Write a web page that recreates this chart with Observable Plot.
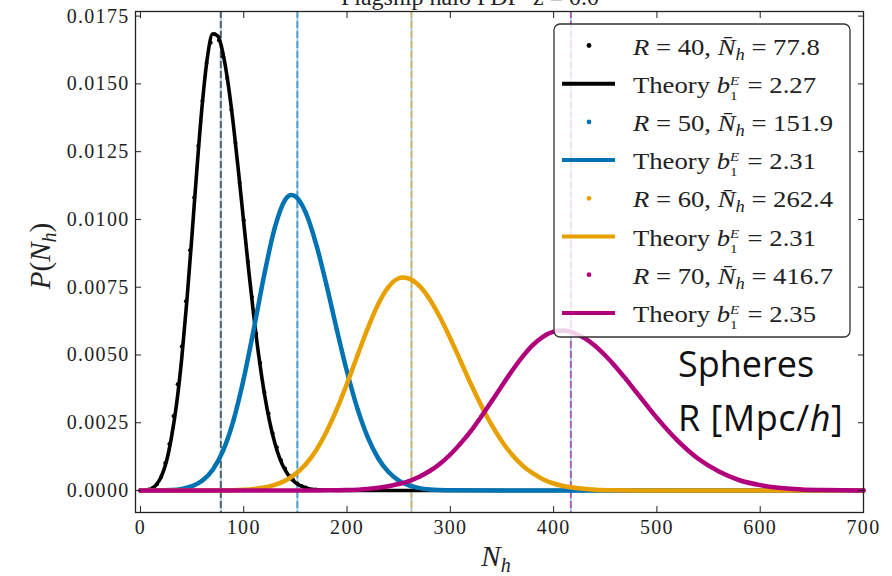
<!DOCTYPE html>
<html>
<head>
<meta charset="utf-8">
<script src="https://cdn.jsdelivr.net/npm/d3@7"></script>
<script src="https://cdn.jsdelivr.net/npm/@observablehq/plot@0.6"></script>
<style>
  body { margin: 0; background: #fff; }
  #chart svg { display: block; }
</style>
</head>
<body>
<div id="chart"></div>
<script>
// ---------------- data ----------------
const radii = [40, 50, 60, 70];
const meanCounts = [77.8, 151.9, 262.4, 416.7];
const biasLabels = ["2.27", "2.31", "2.31", "2.35"];
const colors = ["#000000", "#0173b2", "#e8a000", "#b0007c"];
const xTicks = [0, 100, 200, 300, 400, 500, 600, 700];
const yTicks = [0, 0.0025, 0.005, 0.0075, 0.01, 0.0125, 0.015, 0.0175];

// Theory curves
const theoryN40 = [0,5,10,15,20,25,30,35,40,45,50,55,60,65,70,75,80,85,90,95,100,105,110,115,120,125,130,135,140,145,150,160,170,180,200,250,300,400,500,600,700];
const theoryP40 = [0,0.00001,0.00005,0.0002,0.0005,0.00105,0.00196,0.0032,0.00489,0.00703,0.00948,0.01203,0.01432,0.01603,0.01685,0.01676,0.01611,0.01498,0.01348,0.01173,0.00988,0.00805,0.00634,0.00484,0.00357,0.00255,0.00176,0.00117,0.00076,0.00048,0.00029,0.0001,0.00003,0.00001,0,0,0,0,0,0,0];

const theoryN50 = [0,10,20,30,40,50,60,70,80,90,100,110,120,130,140,146,150,160,170,180,190,200,210,220,230,240,250,260,270,280,290,300,350,400,500,600,700];
const theoryP50 = [0,0,0.00001,0.00002,0.00006,0.00016,0.00037,0.00077,0.00147,0.00258,0.00413,0.00601,0.00799,0.00969,0.01072,0.0109,0.01085,0.01025,0.0091,0.0076,0.00595,0.00438,0.00303,0.00197,0.0012,0.00069,0.00037,0.00019,0.00009,0.00004,0.00002,0.00001,0,0,0,0,0];

const theoryN60 = [0,50,80,90,100,110,120,130,140,150,160,170,180,190,200,210,220,230,240,250,254,260,270,280,290,300,310,320,330,340,350,360,370,380,390,400,420,440,460,500,600,700];
const theoryP60 = [0,0,0,0.00001,0.00003,0.00006,0.00011,0.00021,0.00036,0.00061,0.00097,0.00148,0.00216,0.00299,0.00395,0.00497,0.00598,0.00686,0.0075,0.00783,0.00786,0.00782,0.00755,0.00706,0.00639,0.00561,0.00477,0.00392,0.00313,0.00242,0.00181,0.00131,0.00092,0.00063,0.00041,0.00026,0.0001,0.00003,0.00001,0,0,0];

const theoryN70 = [0,100,160,180,200,220,240,250,260,270,280,290,300,310,320,330,340,350,360,370,380,390,400,407,410,420,430,440,450,460,470,480,490,500,520,540,560,580,600,620,640,660,680,700];
const theoryP70 = [0,0,0,0.00001,0.00002,0.00006,0.00016,0.00024,0.00035,0.00051,0.00072,0.00099,0.00133,0.00174,0.0022,0.00273,0.00329,0.00387,0.00443,0.00494,0.00537,0.00568,0.00586,0.0059,0.0059,0.00581,0.00562,0.00534,0.00498,0.00457,0.00411,0.00363,0.00315,0.00268,0.00184,0.00117,0.0007,0.00038,0.0002,0.00009,0.00004,0.00002,0.00001,0];

// Measured points (R = 40 visible beside its theory line)
const dataN40 = [0,4,8,12,16,20,24,28,32,36,40,44,48,52,56,60,64,68,72,76,80,84,88,92,96,100,104,108,112,116,120,124,128,132,136,140,144,148,152,156,160,170,180];
const dataP40 = [0,0.00001,0.00004,0.0001,0.00023,0.0005,0.00102,0.00172,0.00275,0.00392,0.00531,0.00698,0.00886,0.01081,0.01272,0.01438,0.01577,0.01652,0.01683,0.01661,0.016,0.01522,0.01405,0.01283,0.01135,0.00997,0.00845,0.00714,0.00579,0.0047,0.00363,0.00284,0.00211,0.0016,0.00113,0.00081,0.00055,0.00039,0.00025,0.00017,0.00011,0.00004,0.00001];

// ---------------- build tables ----------------
const pairs = (N, P) => N.map((n, i) => ({N: n, P: P[i]}));
const theorySets = [pairs(theoryN40, theoryP40), pairs(theoryN50, theoryP50), pairs(theoryN60, theoryP60), pairs(theoryN70, theoryP70)];
const dataSets = [pairs(dataN40, dataP40), pairs(theoryN50, theoryP50), pairs(theoryN60, theoryP60), pairs(theoryN70, theoryP70)];
const meanRows = meanCounts.map((m, i) => ({N: m, color: colors[i]}));

const seriesMarks = [];
radii.forEach((r, i) => {
  seriesMarks.push(Plot.dot(dataSets[i], {x: "N", y: "P", r: 2, fill: colors[i], stroke: "none"}));
  seriesMarks.push(Plot.line(theorySets[i], {x: "N", y: "P", stroke: colors[i], strokeWidth: i === 0 ? 3.6 : 4.5, curve: "monotone-x"}));
});

const chart = Plot.plot({
  width: 892,
  height: 576,
  marginLeft: 135,
  marginRight: 29,
  marginTop: 11,
  marginBottom: 64,
  x: {domain: [-4.8, 700]},
  y: {domain: [-0.00081, 0.01767]},
  style: {fontFamily: "'Liberation Serif', 'Times New Roman', serif", fontSize: "20px", color: "#222", background: "#fff"},
  marks: [
    Plot.ruleX(meanRows, {x: "N", stroke: "#a8d2f0", strokeWidth: 2}),
    Plot.ruleX(meanRows, {x: "N", stroke: "color", strokeWidth: 2, strokeOpacity: 0.55, strokeDasharray: "7,3"}),
    ...seriesMarks,
    Plot.axisX({ticks: xTicks, tickSize: -6, tickPadding: 13, tickFormat: d => String(d), label: null}),
    Plot.axisX({anchor: "top", ticks: xTicks, tickSize: -6, tickFormat: () => "", label: null}),
    Plot.axisY({ticks: yTicks, tickSize: -6, tickPadding: 12, tickFormat: d => d.toFixed(4), label: null}),
    Plot.axisY({anchor: "right", ticks: yTicks, tickSize: -6, tickFormat: () => "", label: null}),
    Plot.frame({stroke: "#222", strokeWidth: 1.3})
  ]
});
document.getElementById("chart").appendChild(chart);

// ---------------- annotations ----------------
const svg = d3.select(chart);
svg.selectAll('g[aria-label="x-axis tick label"] text, g[aria-label="y-axis tick label"] text')
  .attr("letter-spacing", "1.3px").attr("fill", "#222");

const serif = "'Liberation Serif', 'Times New Roman', serif";

// clipped title (only its lower edge is visible, as in the original)
svg.append("text").attr("x", 470).attr("y", 5).attr("text-anchor", "middle")
  .attr("font-family", serif).attr("font-size", 24).attr("fill", "#222")
  .text("Flagship halo PDF  z = 0.0");

// y label P(N_h)
const yl = svg.append("text").attr("transform", "translate(50,256) rotate(-90)")
  .attr("text-anchor", "middle").attr("font-family", serif).attr("font-size", 29).attr("fill", "#222");
yl.append("tspan").attr("font-style", "italic").text("P");
yl.append("tspan").text("(");
yl.append("tspan").attr("font-style", "italic").text("N");
yl.append("tspan").attr("font-style", "italic").attr("font-size", 20).attr("dy", 6).text("h");
yl.append("tspan").attr("dy", -6).text(")");

// x label N_h
const xl = svg.append("text").attr("x", 496).attr("y", 566).attr("text-anchor", "middle")
  .attr("font-family", serif).attr("font-size", 29).attr("fill", "#222");
xl.append("tspan").attr("font-style", "italic").text("N");
xl.append("tspan").attr("font-style", "italic").attr("font-size", 20).attr("dy", 6).text("h");

// legend
const lg = svg.append("g");
lg.append("rect").attr("x", 554).attr("y", 24).attr("width", 296).attr("height", 313).attr("rx", 6)
  .attr("fill", "#fff").attr("fill-opacity", 0.82).attr("stroke", "#333").attr("stroke-width", 1.3);
radii.forEach((r, i) => {
  const yd = 45.5 + i * 76.4;
  const yt = yd + 38.2;
  lg.append("circle").attr("cx", 589).attr("cy", yd).attr("r", 2.4).attr("fill", colors[i]);
  lg.append("line").attr("x1", 562).attr("x2", 615).attr("y1", yt).attr("y2", yt)
    .attr("stroke", colors[i]).attr("stroke-width", 4);
  const t1 = lg.append("text").attr("transform", `translate(633,${yd + 9}) scale(1.16,1)`)
    .attr("text-anchor", "start")
    .attr("font-family", serif).attr("font-size", 23).attr("fill", "#222");
  t1.append("tspan").attr("font-style", "italic").text("R");
  t1.append("tspan").text(` = ${r}, `);
  t1.append("tspan").attr("font-style", "italic").text("N\u0304");
  t1.append("tspan").attr("font-style", "italic").attr("font-size", 16).attr("dy", 5).text("h");
  t1.append("tspan").attr("dy", -5).text(` = ${meanCounts[i]}`);
  const t2 = lg.append("text").attr("transform", `translate(633,${yt + 9}) scale(1.16,1)`)
    .attr("text-anchor", "start")
    .attr("font-family", serif).attr("font-size", 23).attr("fill", "#222");
  t2.append("tspan").text("Theory ");
  t2.append("tspan").attr("font-style", "italic").text("b");
  t2.append("tspan").attr("font-style", "italic").attr("font-size", 13).attr("dy", -8).text("E");
  t2.append("tspan").attr("font-size", 13).attr("dx", -8).attr("dy", 15).text("1");
  t2.append("tspan").attr("dy", -7).attr("dx", 3).text(` = ${biasLabels[i]}`);
});

// "Spheres R [Mpc/h]"
const sans = "'Open Sans', 'Noto Sans', sans-serif";
svg.append("text").attr("x", 678).attr("y", 377).attr("text-anchor", "start")
  .attr("font-family", sans).attr("font-size", 36).attr("fill", "#111").text("Spheres");
const s2 = svg.append("text").attr("x", 678).attr("y", 431).attr("text-anchor", "start")
  .attr("font-family", sans).attr("font-size", 36).attr("letter-spacing", "0.5px").attr("fill", "#111");
s2.append("tspan").text("R [Mpc/");
s2.append("tspan").attr("font-style", "italic").text("h");
s2.append("tspan").text("]");
</script>
</body>
</html>
